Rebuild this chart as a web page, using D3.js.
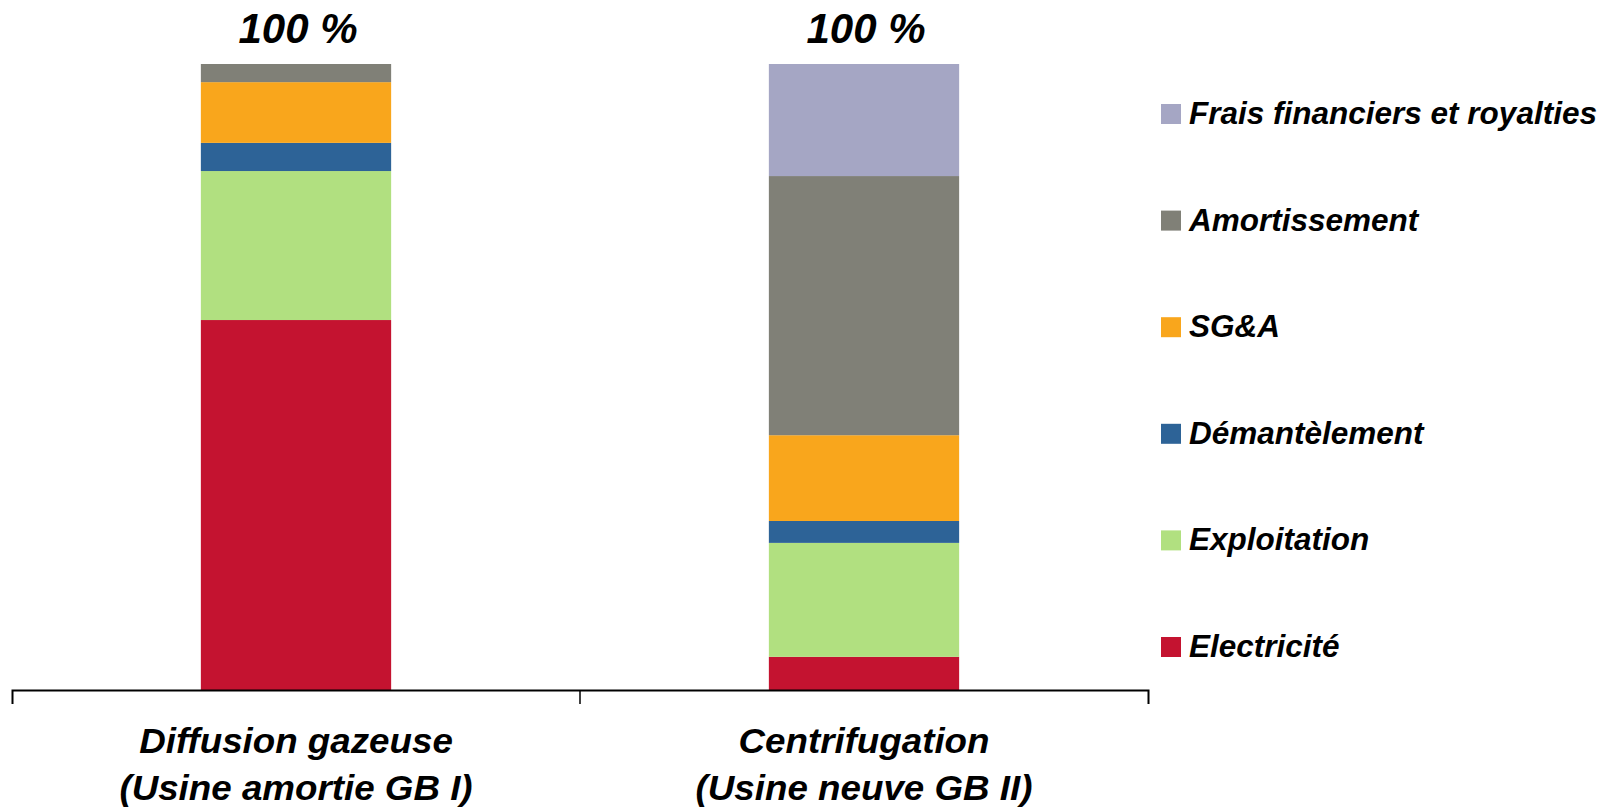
<!DOCTYPE html>
<html>
<head>
<meta charset="utf-8">
<script src="https://cdn.jsdelivr.net/npm/d3@7"></script>
<style>
  html, body { margin: 0; padding: 0; background: #fff; }
  svg { display: block; font-family: "Liberation Sans", Arial, sans-serif; }
</style>
</head>
<body>
<svg id="chart" width="1612" height="809"></svg>
<script>
// categories (x axis), two lines each
const categories = ["Diffusion gazeuse", "Centrifugation"];
const categorySubtitles = ["(Usine amortie GB I)", "(Usine neuve GB II)"];

// stack order, bottom to top
const series = ["Electricité", "Exploitation", "Démantèlement", "SG&A", "Amortissement", "Frais financiers et royalties"];
const seriesColors = ["#C41330", "#B1E080", "#2D6397", "#F9A61C", "#808077", "#A5A6C4"];

// share of cost (%) per series, one value per category
const electricite   = [59.1, 5.3];
const exploitation  = [23.8, 18.2];
const demantelement = [4.5, 3.5];
const sga           = [9.7, 13.7];
const amortissement = [2.9, 41.4];
const frais         = [0.0, 17.9];

const totalLabels = ["100 %", "100 %"];

const seriesValues = [electricite, exploitation, demantelement, sga, amortissement, frais];
const rows = categories.map((c, i) => {
    const row = { category: c };
    series.forEach((s, j) => { row[s] = seriesValues[j][i]; });
    return row;
});

const svg = d3.select("#chart");
const margin = { top: 64, left: 12, right: 464, bottom: 119 };
const width = 1612, height = 809;

const pad = 0.665;
const x = d3.scaleBand()
    .domain(categories)
    .range([margin.left, width - margin.right])
    .paddingInner(pad)
    .paddingOuter(pad / 2);

const y = d3.scaleLinear()
    .domain([0, 100])
    .range([height - margin.bottom, margin.top]);

const color = d3.scaleOrdinal().domain(series).range(seriesColors);

const stacked = d3.stack().keys(series)(rows);

// bars
svg.append("g")
    .selectAll("g")
    .data(stacked)
    .join("g")
    .attr("fill", d => color(d.key))
    .selectAll("rect")
    .data(d => d)
    .join("rect")
    .attr("x", d => x(d.data.category))
    .attr("width", x.bandwidth())
    .attr("y", d => y(d[1]))
    .attr("height", d => y(d[0]) - y(d[1]));

// totals on top
svg.append("g")
    .selectAll("text")
    .data(categories)
    .join("text")
    .attr("x", d => x(d) + x.bandwidth() / 2 + 2)
    .attr("y", d => y(100) - 21)
    .attr("text-anchor", "middle")
    .style("font-size", "42px")
    .style("font-weight", "bold")
    .style("font-style", "italic")
    .text((d, i) => totalLabels[i]);

// x axis: line with outer ticks, plus a tick between the categories
const axisG = svg.append("g")
    .attr("transform", `translate(0,${y(0)})`)
    .call(d3.axisBottom(x).tickSize(0).tickSizeOuter(14).tickFormat(""));
axisG.select(".domain").attr("stroke", "#000").attr("stroke-width", 2);

const gap = (x.step() - x.bandwidth()) / 2;
axisG.selectAll("line.sep")
    .data(categories.slice(1))
    .join("line")
    .attr("class", "sep")
    .attr("x1", d => x(d) - gap)
    .attr("x2", d => x(d) - gap)
    .attr("y1", 0)
    .attr("y2", 14)
    .attr("stroke", "#000")
    .attr("stroke-width", 1.5);

// category labels (a little wider than the font, like the original)
const labelG = svg.append("g")
    .selectAll("g")
    .data(categories)
    .join("g")
    .attr("transform", d => `translate(${x(d) + x.bandwidth() / 2},0) scale(1.05,1)`);

labelG.append("text")
    .attr("y", 753)
    .attr("text-anchor", "middle")
    .style("font-size", "35px")
    .style("font-weight", "bold")
    .style("font-style", "italic")
    .text(d => d);

labelG.append("text")
    .attr("y", 800)
    .attr("text-anchor", "middle")
    .style("font-size", "35px")
    .style("font-weight", "bold")
    .style("font-style", "italic")
    .text((d, i) => categorySubtitles[i]);

// legend, top to bottom = reverse of stack order
const legendSeries = series.slice().reverse();
const legendY = d3.scalePoint()
    .domain(legendSeries)
    .range([114, 647]);

const legend = svg.append("g")
    .selectAll("g")
    .data(legendSeries)
    .join("g")
    .attr("transform", d => `translate(1161,${legendY(d)})`);

legend.append("rect")
    .attr("x", 0)
    .attr("y", -10)
    .attr("width", 20)
    .attr("height", 20)
    .attr("fill", d => color(d));

legend.append("text")
    .attr("x", 28)
    .attr("y", 10)
    .style("font-size", "31.5px")
    .style("font-weight", "bold")
    .style("font-style", "italic")
    .text(d => d);
</script>
</body>
</html>
